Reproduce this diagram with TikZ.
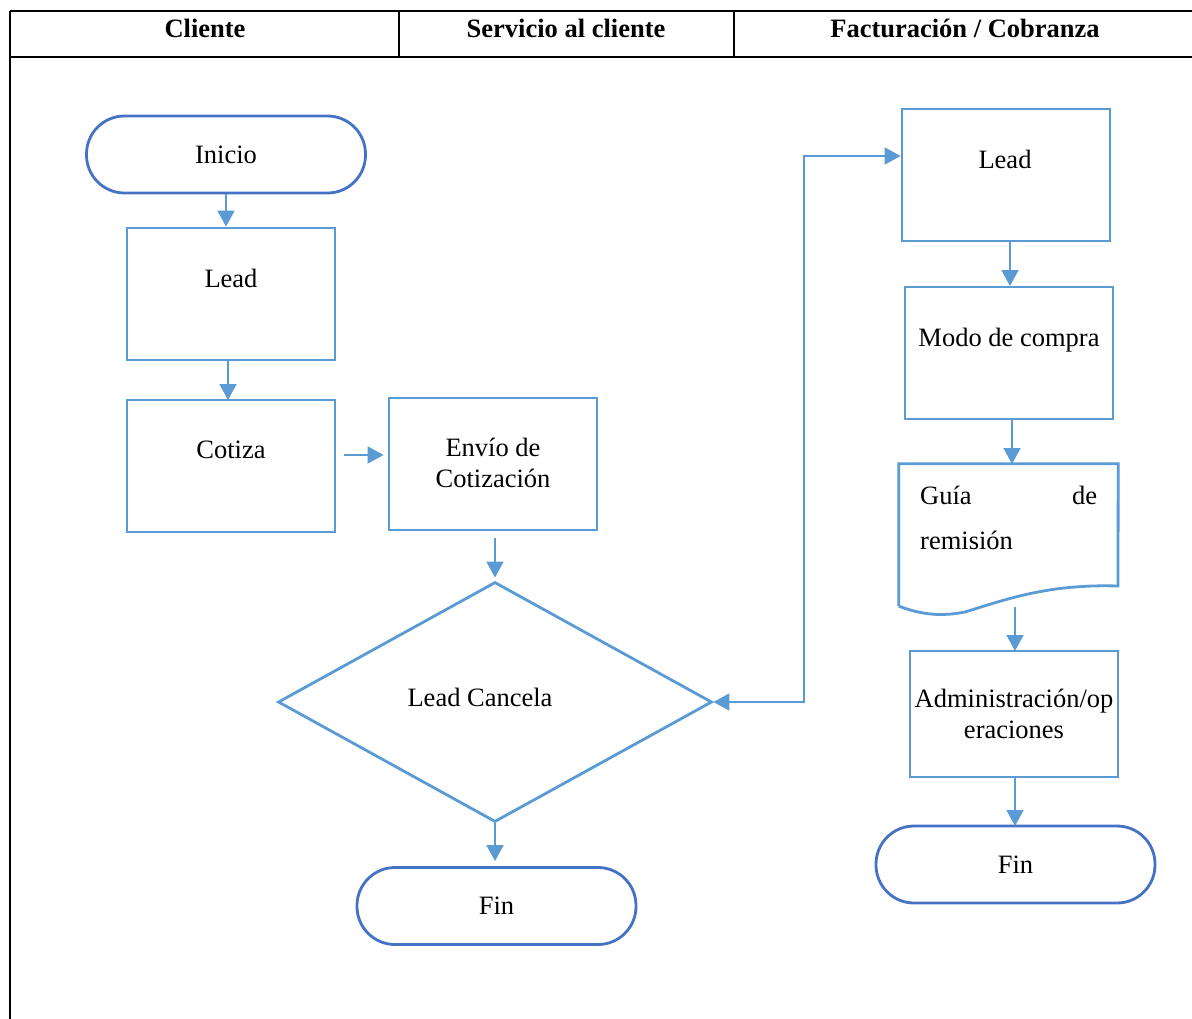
\documentclass[tikz,border=0pt]{standalone}
\usepackage{fontspec}
\setmainfont{Liberation Serif}
\usetikzlibrary{arrows.meta,shapes.geometric}
\definecolor{boxblue}{HTML}{5B9BD5}
\definecolor{termblue}{HTML}{4472C4}
\begin{document}
\begin{tikzpicture}[x=1pt,y=-1pt,
  font=\fontsize{26.5}{31}\selectfont,
  tableline/.style={black,line width=2.6pt},
  headtext/.style={font=\fontsize{26.5}{31}\selectfont\bfseries,anchor=base,inner sep=0pt},
  procbox/.style={draw=boxblue,line width=2.8pt,rectangle,minimum width=208pt,minimum height=132pt,inner sep=0pt},
  termbox/.style={draw=termblue,line width=2.8pt,rectangle,rounded corners=38pt,minimum width=279pt,minimum height=77pt,inner sep=0pt},
  decision/.style={draw=boxblue,line width=2.8pt,diamond,minimum width=434pt,minimum height=240pt,inner sep=0pt},
  boxtext/.style={anchor=base,inner sep=0pt,align=center},
  arr/.style={draw=boxblue,line width=1.6pt,-{Triangle[length=16pt,width=17pt]}},
  biarr/.style={draw=boxblue,line width=1.6pt,{Triangle[length=16pt,width=17pt]}-{Triangle[length=16pt,width=17pt]}}]

\useasboundingbox (0,0) rectangle (1192,1018);
\fill[white] (0,0) rectangle (1192,1018);

% swimlane table
\draw[tableline] (10,11) -- (1194,11);
\draw[tableline] (10,57) -- (1194,57);
\draw[tableline] (10,11) -- (10,1020);
\draw[tableline] (399,11) -- (399,57);
\draw[tableline] (734,11) -- (734,57);
\node[headtext] (hcliente) at (205,37) {Cliente};
\node[headtext] (hservicio) at (566,37) {Servicio al cliente};
\node[headtext] (hfact) at (965,37) {Facturación / Cobranza};

% lane: Cliente
\node[termbox] (inicio) at (226,154.5) {Inicio};
\node[procbox] (lead1) at (231,294) {};
\node[boxtext] (lead1t) at (231,287) {Lead};
\node[procbox] (cotiza) at (231,466) {};
\node[boxtext] (cotizat) at (231,458) {Cotiza};

% lane: Servicio al cliente
\node[procbox] (envio) at (493,464) {};
\node[boxtext] (enviot) at (493,487) {Envío de\\Cotización};
\node[decision] (cancela) at (495,702) {};
\node[boxtext] (cancelat) at (480,706) {Lead Cancela};
\node[termbox] (fin1) at (496.5,906) {Fin};

% lane: Facturación / Cobranza
\node[procbox] (lead2) at (1006,175) {};
\node[boxtext] (lead2t) at (1005,168) {Lead};
\node[procbox] (modo) at (1009,353) {};
\node[boxtext] (modot) at (1009,346) {Modo de compra};
\node[rectangle,minimum width=219pt,minimum height=142pt,inner sep=0pt] (guia) at (1008.5,535) {};
\draw[boxblue,line width=2.8pt,line join=miter]
  (guia.south west) -- (guia.north west) -- (guia.north east) -- (1118,586)
  .. controls (1050,584) and (1010,598) .. (965,612)
  .. controls (935,618) and (915,612) .. (guia.south west);
\node[anchor=base west,inner sep=0pt,align=left] (guiat) at (920,549)
  {\hbox to 177pt{Guía\hfill de}\\[14pt]remisión};
\node[procbox,minimum height=126pt] (admin) at (1014,714) {};
\node[boxtext] (admint) at (1014,738) {Administración/op\\eraciones};
\node[termbox] (fin2) at (1015.5,864.5) {Fin};

% connectors
\draw[arr] (inicio.south) -- (inicio.south |- lead1.north);
\draw[arr] (228,360) -- (228,400);
\draw[arr,shorten <=8pt,shorten >=4pt] ([yshift=11pt]cotiza.east) -- ([yshift=9pt]envio.west);
\draw[arr,shorten <=7pt,shorten >=3pt] (envio.south -| cancela.north) -- (cancela.north);
\draw[arr,shorten >=5pt] (cancela.south) -- (cancela.south |- fin1.north);
\coordinate (lead2in) at (lead2.west |- 0,156);
\draw[biarr] (cancela.east) -| (804,156) -- (lead2in);
\draw[arr] (1010,241) -- (1010,286);
\draw[arr] (1012,419) -- (1012,464);
\draw[arr] (1015,607) -- (1015,651);
\draw[arr] (1015,777) -- (1015,826);
\end{tikzpicture}
\end{document}
